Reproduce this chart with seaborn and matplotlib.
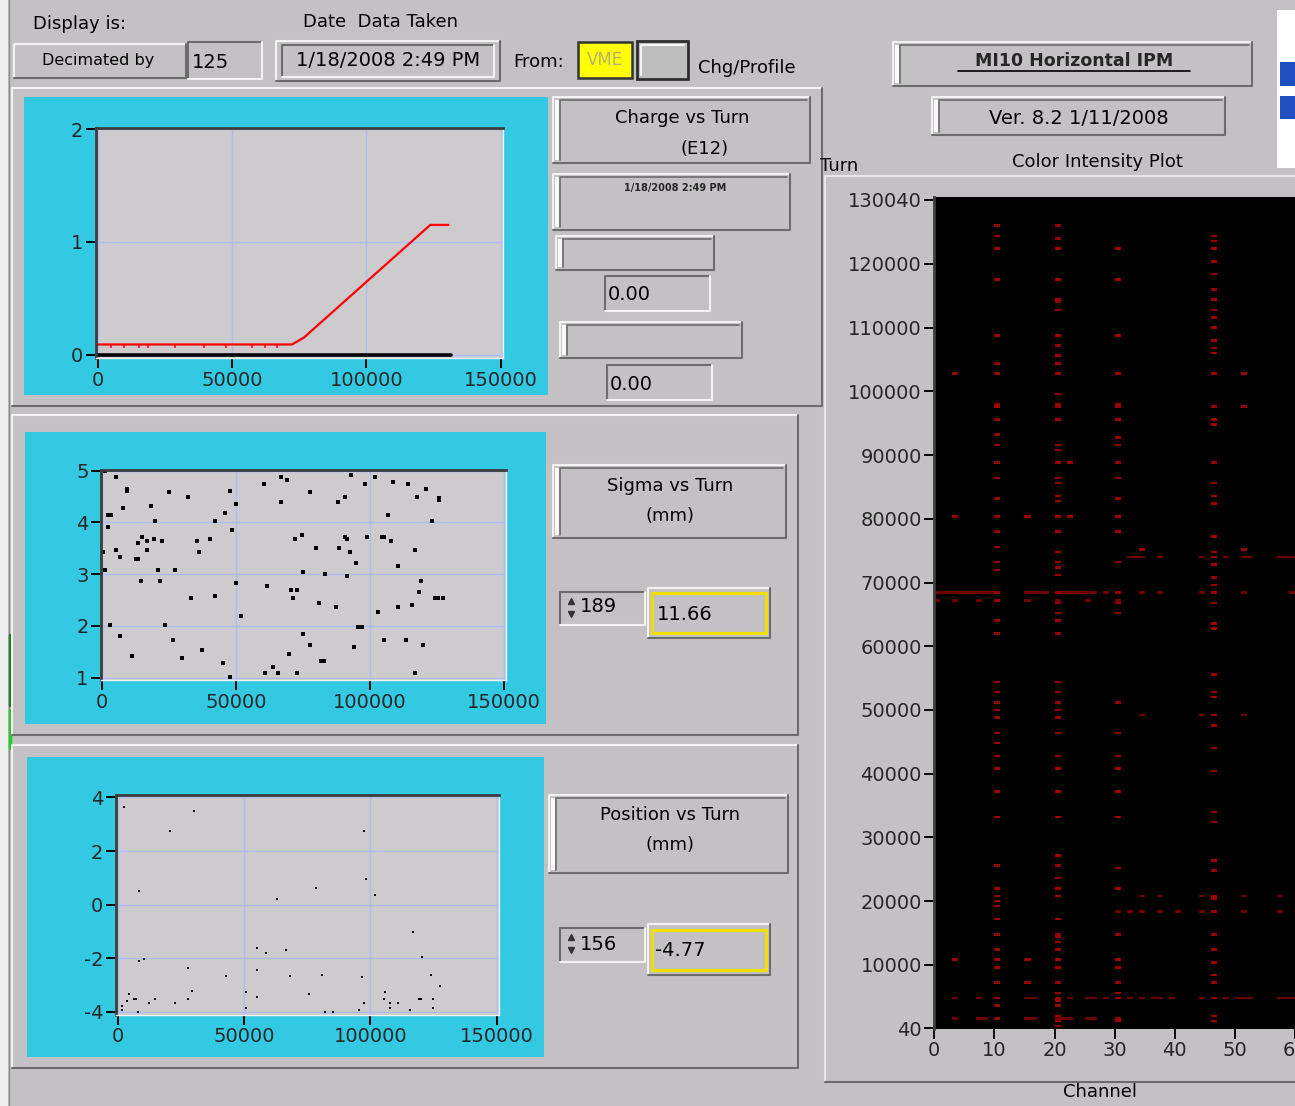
import matplotlib

matplotlib.use("Agg")
import matplotlib.pyplot as plt
import numpy as np
import seaborn as sns
from matplotlib.colors import ListedColormap
from matplotlib.patches import Rectangle

sns.set_theme(style="white")
plt.rcParams["font.family"] = ["DejaVu Sans"]

W, H = 1295, 1106

# ---- Charge vs Turn (E12) ----
charge_turns = [0, 72300, 74500, 76700, 123800, 130500]
charge_e12 = [0.09, 0.09, 0.12, 0.15, 1.15, 1.15]
charge_mark_turns = [4780, 9810, 15470, 18860, 28670, 39610, 47790, 57590, 62240, 66640]
profile_turns = [0, 131400]
profile_vals = [0.0, 0.0]

# ---- Sigma vs Turn (mm) ----
sigma_turns = [
    1264, 5300, 9480, 9480, 24900, 32100, 47650, 50180, 60550, 67000, 69100, 67000,
    77700, 88100, 90900, 93150, 98200, 102000, 108700, 114400, 117800, 121000, 126000,
    126000, 7840, 2150, 3400, 18300, 19800, 2150, 42000, 45900, 48500, 107000, 123200,
    500, 5300, 6800, 13500, 15000, 16700, 16700, 19500, 22400, 12600, 13500, 35400,
    36300, 40400, 72000, 74600, 80100, 88400, 90900, 91600, 92500, 99100, 104500,
    105500, 107900, 117000, 94800, 110500, 1260, 20700, 27400, 14400, 21500, 50180,
    61600, 70400, 72900, 75200, 83400, 91500, 119300, 118400, 33100, 42000, 71400,
    80900, 87500, 102900, 110500, 115900, 124400, 125400, 127300, 51800, 2800, 23400,
    95700, 97000, 6800, 26500, 75200, 77700, 94000, 105400, 113600, 120000, 37200,
    11000, 29700, 69800, 81800, 82800, 45100, 63800, 60900, 65700, 72900, 117000, 47700,
]
sigma_mm = [
    4.99, 4.87, 4.64, 4.61, 4.58, 4.49, 4.61, 4.36, 4.74, 4.87, 4.82, 4.40,
    4.58, 4.40, 4.49, 4.92, 4.74, 4.87, 4.78, 4.74, 4.49, 4.65, 4.48,
    4.43, 4.27, 4.15, 4.15, 4.31, 4.02, 3.92, 4.02, 4.19, 3.85, 4.15, 4.02,
    3.43, 3.47, 3.34, 3.60, 3.71, 3.64, 3.47, 3.68, 3.64, 3.30, 3.30, 3.64,
    3.42, 3.68, 3.68, 3.76, 3.51, 3.51, 3.71, 3.68, 3.42, 3.71, 3.71,
    3.71, 3.64, 3.47, 3.21, 3.16, 3.09, 3.09, 3.09, 2.87, 2.87, 2.83,
    2.78, 2.70, 2.70, 3.04, 3.00, 2.96, 2.87, 2.65, 2.53, 2.57, 2.53,
    2.44, 2.36, 2.27, 2.36, 2.40, 2.53, 2.53, 2.53, 2.19, 2.02, 2.02,
    1.98, 1.98, 1.80, 1.72, 1.85, 1.63, 1.59, 1.72, 1.72, 1.63, 1.54,
    1.42, 1.37, 1.46, 1.33, 1.33, 1.29, 1.20, 1.08, 1.08, 1.08, 1.08, 1.02,
]

# ---- Position vs Turn (mm) ----
pos_turns = [
    2540, 30200, 20600, 97400, 98100, 78400, 8430, 101600, 62800, 116900, 55000, 58600,
    66400, 120600, 8430, 10400, 27600, 55000, 42900, 68000, 80800, 96500, 123900,
    127500, 29300, 50700, 75700, 105800, 4400, 6150, 7100, 3480, 14600, 27600, 55000,
    105200, 119200, 120200, 124600, 1740, 12200, 22500, 97400, 107800, 110900, 1470,
    50700, 107800, 124800, 7760, 81800, 85100, 95500, 115500,
]
pos_mm = [
    3.65, 3.49, 2.76, 2.76, 0.95, 0.61, 0.52, 0.36, 0.21, -1.03, -1.61, -1.79,
    -1.70, -1.94, -2.12, -2.04, -2.36, -2.45, -2.68, -2.68, -2.61, -2.70, -2.61,
    -3.02, -3.21, -3.28, -3.35, -3.28, -3.35, -3.51, -3.51, -3.60, -3.51, -3.51, -3.43,
    -3.51, -3.51, -3.51, -3.51, -3.78, -3.69, -3.69, -3.69, -3.69, -3.69, -3.94,
    -3.85, -3.85, -3.85, -4.02, -4.02, -4.02, -3.94, -3.94,
]

# ---- Color intensity plot: turns with a hit, per channel column ----
ch10_turns = [
    126170, 124450, 122350, 117650, 108810, 104310, 102850, 98190, 97510, 95470, 93380,
    91650, 88880, 86580, 83390, 80410, 78050, 75600, 73350, 72040, 68270, 67180, 64040,
    62000, 54320, 52630, 51210, 49840, 48950, 46420, 45000, 42630, 40630, 37110, 33320,
    25530, 21950, 20900, 20000, 19210, 17210, 14790, 12370, 11000, 9580, 7210, 4840,
    3420, 1680,
]
ch20_turns = [
    126170, 124080, 122350, 117650, 114400, 113880, 112830, 108910, 107080, 105770,
    104310, 102850, 99600, 98190, 97410, 95470, 91650, 90610, 88880, 86580, 85640,
    83550, 82760, 80410, 78050, 74920, 73350, 72460, 71260, 68270, 66970, 65400, 64040,
    62000, 54320, 52900, 51160, 49840, 48680, 46320, 42790, 40790, 37110, 33320, 27110,
    25530, 23420, 21840, 20900, 17210, 14790, 14210, 13420, 12370, 11000, 9580, 7210,
    5530, 4840, 4210, 3420, 1840, 1320, 260,
]
ch30_turns = [
    122350, 117650, 108810, 102850, 98190, 97510, 95470, 92960, 91650, 88880, 86580,
    83390, 80410, 78050, 73350, 68270, 66970, 65400, 51160, 46320, 42890, 40790, 37110,
    33320, 25370, 21950, 14790, 11000, 9580, 7210, 5530, 4840, 1680, 1160,
]
ch46_turns = [
    124450, 123560, 122250, 120310, 118590, 115970, 114560, 112940, 111790, 110060,
    108080, 106660, 106030, 102850, 97410, 95470, 94790, 88880, 85540, 83660, 82400,
    77280, 74920, 73880, 72830, 70740, 69430, 68270, 66710, 63410, 62890, 55630, 52900,
    51840, 49320, 47630, 43950, 40530, 33950, 32260, 26470, 24740, 20900, 20260, 18420,
    14790, 12470, 10530, 8530, 7110, 4840, 2100, 1050,
]
ch3_turns = [102850, 80410, 11000]
ch15_turns = [80410, 11000, 7210]
ch22_turns = [88880, 80410]
ch51_turns = [102850, 97410, 75200]
ch34_turns = [75200]

# horizontal bands: channels lit at one turn
band_68270 = [0, 1, 2, 3, 4, 5, 6, 7, 8, 9, 10, 15, 16, 17, 18, 20, 21, 22, 23, 24,
              25, 26, 28, 30, 34, 37, 44, 46, 51, 59]
band_67180 = [0, 3, 7, 10, 15, 20, 25, 30]
band_73980 = [32, 33, 34, 37, 44, 46, 48, 51, 52, 57, 58, 59]
band_49320 = [34, 44, 46, 51]
band_20900 = [34, 37, 44, 46, 51, 57]
band_18420 = [30, 32, 34, 37, 40, 44, 46, 51, 57]
band_4840 = [3, 7, 10, 15, 16, 20, 22, 25, 26, 28, 30, 32, 34, 36, 37, 39, 44, 46, 48,
             50, 51, 52, 57, 58, 59]
band_1680 = [3, 7, 8, 10, 15, 16, 20, 21, 22, 25, 26, 30]

channel_ticks = [0, 10, 20, 30, 40, 50, 60]
turn_ticks = [40, 10000, 20000, 30000, 40000, 50000, 60000, 70000, 80000, 90000,
              100000, 110000, 120000, 130040]

BG = "#c4c1c4"
CYAN = "#33c9e3"
PLOT_BG = "#cdcbcd"
GRID = "#aebcf6"

fig = plt.figure(figsize=(W / 100, H / 100), dpi=100, facecolor=BG)
bg = fig.add_axes([0, 0, 1, 1])
bg.set_xlim(0, W)
bg.set_ylim(H, 0)
bg.axis("off")
bg.set_facecolor(BG)


def rect(x0, y0, x1, y1, face, edge="none", lw=1.0):
    bg.add_patch(Rectangle((x0, y0), x1 - x0, y1 - y0, facecolor=face,
                           edgecolor=edge, linewidth=lw))


def frame(x0, y0, x1, y1, face=BG, sunken=False, lw=1.5, strip=False):
    light, dark = "#f2f2f2", "#6c6c6c"
    rect(x0, y0, x1, y1, face)
    tl, br = (dark, light) if sunken else (light, dark)
    bg.plot([x0, x0, x1], [y1, y0, y0], color=tl, lw=lw)
    bg.plot([x0, x1, x1], [y1, y1, y0], color=br, lw=lw)
    if strip:
        rect(x0 + 2, y0 + 3, x0 + 6, y1 - 3, "#fafafa")
        bg.plot([x0 + 7, x0 + 7, x1 - 3], [y1 - 3, y0 + 3, y0 + 3], color=dark, lw=1.2)


def label(x, y, s, size=13, ha="left", color="black", **kw):
    bg.text(x, y, s, fontsize=size, ha=ha, va="center", color=color, **kw)


def to_fig(x0, y0, x1, y1):
    return [x0 / W, 1 - y1 / H, (x1 - x0) / W, (y1 - y0) / H]


# left strip
rect(0, 0, 8, H, "#f0f0f0")
bg.plot([9, 9], [0, H], color="#8a8a8a", lw=1)
bg.plot([9.5, 9.5], [635, 705], color="#1a7a1a", lw=2.5)
bg.plot([9.5, 9.5], [710, 748], color="#22cc22", lw=2.5)

# ---- header ----
label(33, 24, "Display is:")
label(303, 22, "Date  Data Taken")
frame(14, 44, 186, 78)
label(98, 60, "Decimated by", size=11.5, ha="center")
frame(188, 42, 262, 79, sunken=True)
label(192, 62, "125", size=14)
frame(276, 41, 500, 81)
frame(282, 45, 494, 77, sunken=True)
label(388, 60, "1/18/2008 2:49 PM", size=14, ha="center")
label(513, 62, "From:")
rect(578, 42, 632, 78, "#ffff00", "#333333", 1.8)
label(605, 60, "VME", size=12, ha="center", color="#b8b070")
rect(637, 41, 688, 79, "#bdbdbd", "#2e2e2e", 2.0)
bg.plot([641, 641, 684], [75, 45, 45], color="#f4f4f4", lw=1.5)
label(698, 68, "Chg/Profile")

# top right
frame(893, 42, 1252, 86, strip=True)
bg.text(1074, 61, "MI10 Horizontal IPM", fontsize=12.5, fontweight="bold",
        ha="center", va="center")
bg.plot([958, 1190], [71, 71], color="black", lw=1.2)
frame(932, 97, 1225, 135, strip=True)
label(1079, 118, "Ver. 8.2 1/11/2008", size=14, ha="center")
rect(1277, 10, W + 5, 168, "white")
rect(1280, 62, W + 5, 86, "#1f4fc0")
rect(1280, 96, W + 5, 119, "#1f4fc0")

# ---- panels ----
frame(12, 88, 822, 406)
rect(24, 97, 548, 395, CYAN)
frame(12, 415, 798, 735)
rect(25, 432, 546, 724, CYAN)
frame(12, 745, 798, 1068)
rect(27, 757, 544, 1057, CYAN)

# right side of charge panel
frame(553, 97, 810, 163, strip=True)
label(682, 118, "Charge vs Turn", ha="center")
label(705, 149, "(E12)", ha="center")
frame(553, 174, 790, 230, strip=True)
bg.text(675, 188, "1/18/2008 2:49 PM", fontsize=7, fontweight="bold",
        ha="center", va="center")
frame(556, 236, 714, 270, strip=True)
frame(605, 276, 710, 311, sunken=True)
label(608, 294, "0.00", size=14)
frame(560, 322, 742, 358, strip=True)
frame(607, 365, 712, 400, sunken=True)
label(610, 385, "0.00", size=14)

# right side of sigma panel
frame(553, 465, 786, 538, strip=True)
label(670, 486, "Sigma vs Turn", ha="center")
label(670, 516, "(mm)", ha="center")
frame(560, 592, 645, 625, sunken=True)
bg.plot([571], [601], marker="^", color="#333333", ms=5)
bg.plot([571], [614], marker="v", color="#333333", ms=5)
label(580, 607, "189", size=14)
frame(648, 588, 770, 638)
rect(652, 593, 766, 633, "none", "#f0e000", 2.2)
label(657, 614, "11.66", size=14)

# right side of position panel
frame(549, 795, 788, 873, strip=True)
label(670, 815, "Position vs Turn", ha="center")
label(670, 845, "(mm)", ha="center")
frame(560, 928, 645, 962, sunken=True)
bg.plot([571], [937], marker="^", color="#333333", ms=5)
bg.plot([571], [950], marker="v", color="#333333", ms=5)
label(580, 945, "156", size=14)
frame(648, 924, 770, 975)
rect(652, 930, 766, 970, "none", "#f0e000", 2.2)
label(655, 951, "-4.77", size=14)

# right intensity panel
bg.plot([825, 825], [176, 1082], color="#e6e6e6", lw=1.5)
bg.plot([825, W], [176, 176], color="#e6e6e6", lw=1.5)
bg.plot([825, W], [1082, 1082], color="#6c6c6c", lw=1.5)
label(820, 166, "Turn")
label(1097, 162, "Color Intensity Plot", ha="center")
label(1100, 1092, "Channel", ha="center")


def style_plot(ax):
    ax.set_facecolor(PLOT_BG)
    ax.set_axisbelow(True)
    ax.grid(True, color=GRID, lw=1)
    for side in ("top", "left"):
        ax.spines[side].set_color("#3c3c3c")
        ax.spines[side].set_linewidth(2)
    for side in ("right", "bottom"):
        ax.spines[side].set_color("#f2f2f2")
        ax.spines[side].set_linewidth(1)
    ax.tick_params(direction="out", length=7, width=1.4, color="black",
                   labelsize=14, pad=2, bottom=True, left=True)
    ax.set_xlabel("")
    ax.set_ylabel("")


x_ticks = [0, 50000, 100000, 150000]

# charge plot
ax1 = fig.add_axes(to_fig(96, 128, 503, 358))
sns.lineplot(x=profile_turns, y=profile_vals, ax=ax1, color="black", lw=2.6)
sns.lineplot(x=charge_turns, y=charge_e12, ax=ax1, color="red", lw=1.6)
ax1.plot(charge_mark_turns, [0.075] * len(charge_mark_turns), ls="none",
         marker="|", ms=3.5, color="red", mew=1.1)
ax1.set_xlim(-630, 150855)
ax1.set_ylim(-0.03, 2.009)
ax1.set_xticks(x_ticks)
ax1.set_xticklabels([str(t) for t in x_ticks])
ax1.set_yticks([0, 1, 2])
ax1.set_yticklabels(["0", "1", "2"])
style_plot(ax1)

# sigma plot
ax2 = fig.add_axes(to_fig(101, 470, 506, 680))
sns.scatterplot(x=sigma_turns, y=sigma_mm, ax=ax2, marker="s", s=9,
                color="black", linewidth=0)
ax2.set_xlim(-410, 150900)
ax2.set_ylim(0.954, 5.014)
ax2.set_xticks(x_ticks)
ax2.set_xticklabels([str(t) for t in x_ticks])
ax2.set_yticks([1, 2, 3, 4, 5])
ax2.set_yticklabels(["1", "2", "3", "4", "5"])
style_plot(ax2)

# position plot
ax3 = fig.add_axes(to_fig(116, 795, 499, 1015))
sns.scatterplot(x=pos_turns, y=pos_mm, ax=ax3, marker="s", s=3,
                color="black", linewidth=0)
ax3.set_xlim(-790, 150910)
ax3.set_ylim(-4.12, 4.09)
ax3.set_xticks(x_ticks)
ax3.set_xticklabels([str(t) for t in x_ticks])
ax3.set_yticks([-4, -2, 0, 2, 4])
ax3.set_yticklabels(["-4", "-2", "0", "2", "4"])
style_plot(ax3)

# color intensity plot
turn_edges = np.arange(-200, 130801, 400)
intensity = np.zeros((len(turn_edges) - 1, 64))


def hit(channel, turn, level=1):
    row = np.searchsorted(turn_edges, turn) - 1
    intensity[row, channel] = max(intensity[row, channel], level)


for ch, turns in [(10, ch10_turns), (20, ch20_turns), (30, ch30_turns),
                  (46, ch46_turns), (3, ch3_turns), (15, ch15_turns),
                  (22, ch22_turns), (51, ch51_turns), (34, ch34_turns)]:
    for t in turns:
        hit(ch, t, 2)
for t, chans in [(68270, band_68270), (67180, band_67180), (73980, band_73980),
                 (49320, band_49320), (20900, band_20900), (18420, band_18420),
                 (4840, band_4840), (1680, band_1680)]:
    for ch in chans:
        hit(ch, t, 1)

ax4 = fig.add_axes(to_fig(934.3, 197.3, 934.3 + 64 * 6.013, 1029))
cmap = ListedColormap(["black", "#6e0000", "#9a0000"])
ax4.pcolormesh(np.arange(65), turn_edges, intensity, cmap=cmap, vmin=0, vmax=2,
               shading="flat")
ax4.set_xlim(0, 64)
ax4.set_ylim(-70, 130460)
ax4.set_xticks(channel_ticks)
ax4.set_xticklabels([str(c) for c in channel_ticks])
ax4.set_yticks(turn_ticks)
ax4.set_yticklabels([str(t) for t in turn_ticks])
for side in ax4.spines:
    ax4.spines[side].set_visible(False)
ax4.spines["left"].set_visible(True)
ax4.spines["left"].set_color("#3c3c3c")
ax4.spines["left"].set_linewidth(2)
ax4.tick_params(direction="out", length=7, width=1.4, color="black",
                labelsize=14, pad=2, bottom=True, left=True)

fig.savefig("out.png", dpi=100, facecolor=BG)
